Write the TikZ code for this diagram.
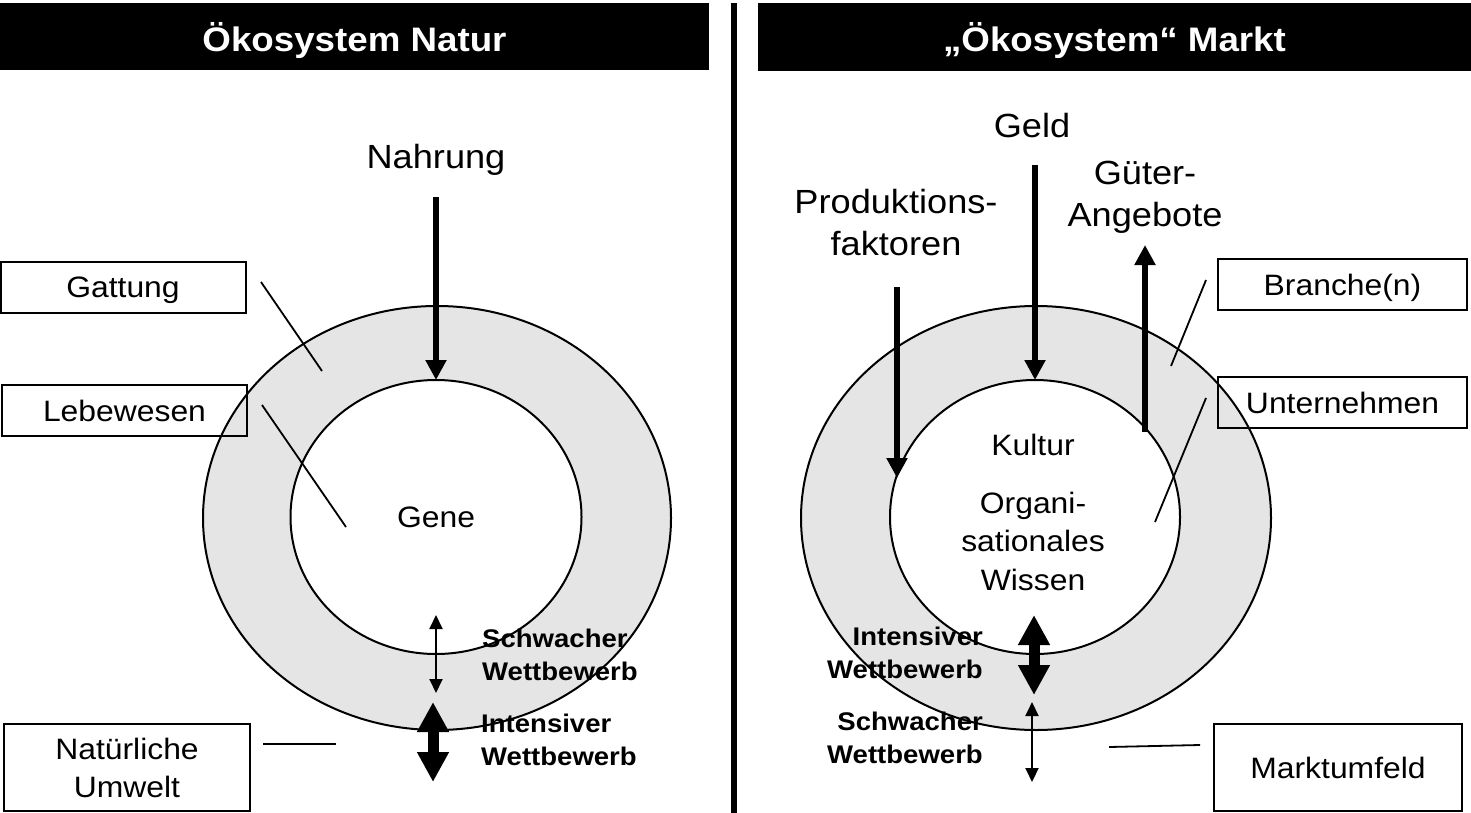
\documentclass[tikz,border=0pt]{standalone}
\usepackage{fontspec}
\setmainfont{Liberation Sans}[FakeStretch=1.08]
\usetikzlibrary{shapes.geometric,arrows.meta}
\definecolor{ringgray}{RGB}{229,229,229}
\begin{document}
\begin{tikzpicture}[x=1pt,y=-1pt,
  ring/.style={draw=black, line width=2pt, ellipse, inner sep=0pt, outer sep=0pt, fill=ringgray},
  core/.style={draw=black, line width=2pt, ellipse, inner sep=0pt, outer sep=0pt, fill=white},
  labelbox/.style={draw=black, line width=2pt, rectangle, inner sep=0pt, outer sep=0pt, font=\fontsize{29.5}{38}\selectfont, align=center},
  onebox/.style={labelbox, text height=21pt, text depth=0pt},
  hdrbar/.style={fill=black, inner sep=0pt, outer sep=0pt},
  hdrtext/.style={text=white, font=\fontsize{34}{40}\selectfont\bfseries, anchor=base, inner sep=0pt},
  biglabel/.style={font=\fontsize{33.5}{42.5}\selectfont, align=center, inner sep=0pt},
  innerlabel/.style={font=\fontsize{29.5}{38.5}\selectfont, align=center, inner sep=0pt},
  complabel/.style={font=\fontsize{25.5}{33}\selectfont\bfseries, inner sep=0pt},
  pointer/.style={line width=1.8pt},
  flow/.style={line width=6pt, -{Triangle[length=20pt,width=20pt]}},
  weak/.style={line width=2pt, {Triangle[length=14pt,width=13pt]}-{Triangle[length=14pt,width=13pt]}},
  strong/.style={line width=11pt, {Triangle[length=30pt,width=30pt]}-{Triangle[length=30pt,width=30pt]}},
]
\useasboundingbox (0,0) rectangle (1471,813);

% headers and divider
\node[hdrbar, minimum width=709pt, minimum height=67pt, anchor=north west] (barL) at (0,3) {};
\node[hdrbar, minimum width=713pt, minimum height=68pt, anchor=north west] (barR) at (758,3) {};
\node[hdrtext] (titleL) at (354.5,52) {Ökosystem Natur};
\node[hdrtext] (titleR) at (1114.5,52) {„Ökosystem“ Markt};
\coordinate (divTop) at (734,3);
\coordinate (divBot) at (734,813);
\draw[line width=6pt] (divTop) -- (divBot);

% left ellipses
\node[ring, minimum width=468pt, minimum height=424pt] (outerL) at (437,518) {};
\node[core, minimum width=291pt, minimum height=274pt] (innerL) at (436,517) {};
% right ellipses
\node[ring, minimum width=470pt, minimum height=424pt] (outerR) at (1036,518) {};
\node[core, minimum width=290pt, minimum height=274pt] (innerR) at (1035,517) {};

% left texts
\node[biglabel, anchor=base] (nahrung) at (436,168) {Nahrung};
\node[innerlabel, anchor=base] (gene) at (436,527) {Gene};
\node[onebox, minimum width=245pt, minimum height=51pt] (gattung) at (123,287) {Gattung};
\node[onebox, minimum width=245pt, minimum height=51pt] (lebewesen) at (124.5,410.5) {Lebewesen};
\node[labelbox, minimum width=246pt, minimum height=87pt] (umwelt) at (127,767.5) {Natürliche\\Umwelt};
\node[complabel, align=left, anchor=north west] (schwachL) at (482,628.5) {Schwacher\\Wettbewerb};
\node[complabel, align=left, anchor=north west] (intensL) at (481,713.4) {Intensiver\\Wettbewerb};

% right texts
\node[biglabel, anchor=base] (geld) at (1032,138) {Geld};
\node[biglabel, anchor=north] (prod) at (896,189) {Produktions-\\faktoren};
\node[biglabel, anchor=north] (gueter) at (1145,160.5) {Güter-\\Angebote};
\node[innerlabel, anchor=base] (kultur) at (1033,455) {Kultur};
\node[innerlabel, anchor=north] (wissen) at (1033,491.5) {Organi-\\sationales\\Wissen};
\node[onebox, minimum width=249pt, minimum height=51pt] (branche) at (1342.5,284.5) {Branche(n)};
\node[onebox, minimum width=249pt, minimum height=51pt] (unternehmen) at (1342.5,402.5) {Unternehmen};
\node[onebox, minimum width=248pt, minimum height=87pt] (markt) at (1338,767.5) {Marktumfeld};
\node[complabel, align=right, anchor=north east] (intensR) at (983,626.4) {Intensiver\\Wettbewerb};
\node[complabel, align=right, anchor=north east] (schwachR) at (983,711.4) {Schwacher\\Wettbewerb};

% pointer lines (left)
\coordinate (gA) at (261,282); \coordinate (gB) at (322,371);
\coordinate (lA) at (262,405); \coordinate (lB) at (346,527);
\coordinate (uA) at (263,744); \coordinate (uB) at (336,744);
\draw[pointer] (gA) -- (gB);
\draw[pointer] (lA) -- (lB);
\draw[pointer] (uA) -- (uB);
% pointer lines (right)
\coordinate (bA) at (1206,280); \coordinate (bB) at (1171,366);
\coordinate (nA) at (1206,398); \coordinate (nB) at (1155,522);
\coordinate (mA) at (1200,745); \coordinate (mB) at (1109,747);
\draw[pointer] (bA) -- (bB);
\draw[pointer] (nA) -- (nB);
\draw[pointer] (mA) -- (mB);

% flow arrows
\coordinate (nahrungS) at (436,197);
\draw[flow] (nahrungS) -- (innerL.north);
\coordinate (geldS) at (1035,165);
\draw[flow] (geldS) -- (innerR.north);
\coordinate (prodS) at (897,287); \coordinate (prodE) at (897,478);
\draw[flow] (prodS) -- (prodE);
\coordinate (guetS) at (1145,432); \coordinate (guetE) at (1145,245);
\draw[flow] (guetS) -- (guetE);

% competition arrows
\coordinate (wLa) at (436,615); \coordinate (wLb) at (436,693);
\draw[weak] (wLa) -- (wLb);
\coordinate (sLa) at (433,702); \coordinate (sLb) at (433,782);
\draw[strong] (sLa) -- (sLb);
\coordinate (sRa) at (1034,615); \coordinate (sRb) at (1034,695);
\draw[strong] (sRa) -- (sRb);
\coordinate (wRa) at (1032,702); \coordinate (wRb) at (1032,782);
\draw[weak] (wRa) -- (wRb);
\end{tikzpicture}
\end{document}
